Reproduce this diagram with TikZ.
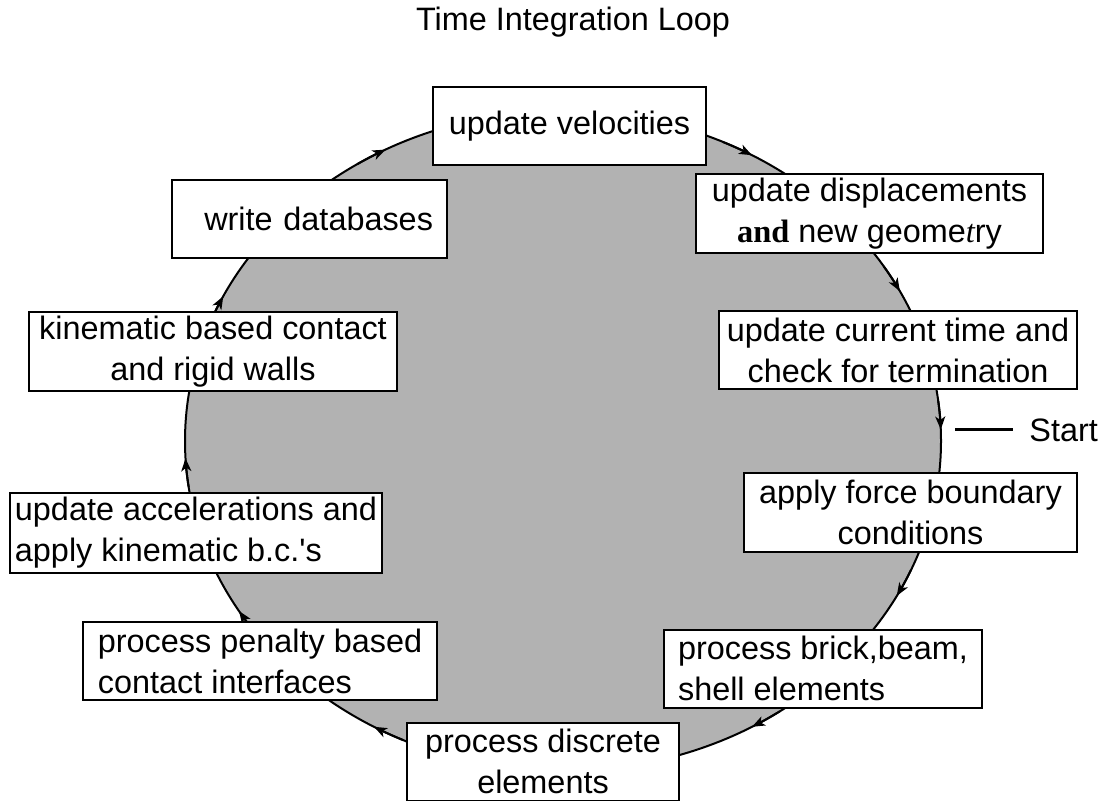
\documentclass[tikz,border=0pt]{standalone}
\usepackage{fontspec}
\setmainfont{Liberation Sans}
\newfontfamily\oddserif{Liberation Serif}
\usetikzlibrary{arrows.meta}

\begin{document}
\begin{tikzpicture}[x=0.5pt, y=-0.5pt, font=\fontsize{16.2}{20.5}\selectfont,
  stage/.style={draw, fill=white, line width=1pt, minimum height=39pt, inner xsep=2pt, inner ysep=2pt, align=center},
  flow/.style={line width=1pt, -{Stealth[length=6.5pt, width=5pt, inset=1.8pt]}}]
\useasboundingbox (0,0) rectangle (1107,801);
\node (title) at (573,22) {Time Integration Loop};
\coordinate (hub) at (563,441);
\draw[fill=black!30, line width=1pt] (hub) ellipse [x radius=378, y radius=330];
\foreach \p in {-154,-118,-60,-27,-2,28,60,120,149,177}
  \draw[flow] (hub) ++(\p-5:378 and 330) arc[start angle=\p-5, end angle=\p, x radius=378, y radius=330];
\node[stage, minimum width=136.5pt] (vel) at (569.5,126.5) {update velocities};
\node[stage, minimum width=173.5pt] (disp) at (869.5,213.5) {update displacements\\{\oddserif\bfseries and} new geome{\oddserif\itshape t}ry};
\node[stage, minimum width=179pt] (time) at (898,350.5) {update current time and\\check for termination};
\node[stage, minimum width=166.5pt] (force) at (910.5,512.5) {apply force boundary\\conditions};
\node[stage, minimum width=159pt, align=left] (brick) at (823,668.5) {process brick,beam,\\shell elements};
\node[stage, minimum width=136pt] (discrete) at (543,761.5) {process discrete\\elements};
\node[stage, minimum width=177pt, align=left] (penalty) at (260,661) {process penalty based\\contact interfaces};
\node[stage, minimum width=186pt, align=left] (accel) at (196,533) {update accelerations and\\apply kinematic b.c.\textquotesingle s};
\node[stage, minimum width=184pt] (kinematic) at (213,351.5) {kinematic based contact\\and rigid walls};
\node[stage, text width=123.5pt, inner xsep=7pt, align=right] (write) at (309.5,219) {write databases};
\coordinate (startmark) at (955,430);
\node[anchor=west, inner xsep=8pt] (start) at (1013,430) {Start};
\draw[line width=1.5pt] (startmark) -- (start.west);
\end{tikzpicture}
\end{document}
